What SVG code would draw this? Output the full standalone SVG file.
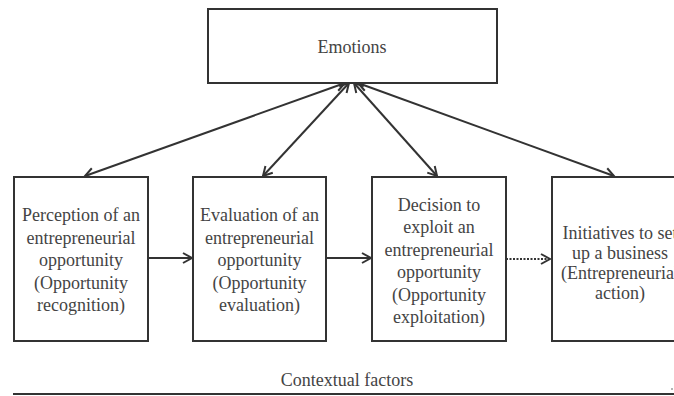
<svg xmlns="http://www.w3.org/2000/svg" width="674" height="396" viewBox="0 0 674 396">
<defs>
<style>
.box{fill:#fff;stroke:#333;stroke-width:2}
.t{font-family:'Liberation Serif','Times New Roman',Times,'DejaVu Serif',serif;font-size:18px;fill:#444;text-anchor:middle}
.c{stroke:#333;stroke-width:2;fill:none}
.d{stroke:#333;stroke-width:2;fill:none;stroke-dasharray:2 1.5}
</style>
<marker id="ah" markerUnits="userSpaceOnUse" markerWidth="14" markerHeight="14" viewBox="0 0 14 14" refX="12" refY="7" orient="auto-start-reverse">
<path d="M3,2 L12,7 L3,12" fill="none" stroke="#333" stroke-width="2"/>
</marker>
</defs>
<rect width="674" height="396" fill="#fff"/>
<g id="connectors">
<line class="c" x1="345" y1="83" x2="85" y2="176" marker-start="url(#ah)" marker-end="url(#ah)"/>
<line class="c" x1="349" y1="83" x2="263" y2="176" marker-start="url(#ah)" marker-end="url(#ah)"/>
<line class="c" x1="354" y1="83" x2="437" y2="176" marker-start="url(#ah)" marker-end="url(#ah)"/>
<line class="c" x1="358" y1="83" x2="614" y2="176" marker-start="url(#ah)" marker-end="url(#ah)"/>
<line class="c" x1="148" y1="258" x2="192" y2="258" marker-end="url(#ah)"/>
<line class="c" x1="326" y1="258" x2="371" y2="258" marker-end="url(#ah)"/>
<line class="d" x1="506" y1="259" x2="550" y2="259" marker-end="url(#ah)"/>
</g>
<g id="emotions">
<rect class="box" x="208" y="9" width="289" height="74"/>
<text class="t" font-family="Liberation Serif, serif" x="352" y="53">Emotions</text>
</g>
<g id="perception">
<rect class="box" x="14" y="177" width="134" height="164"/>
<text class="t" font-family="Liberation Serif, serif" x="81"><tspan x="81" y="221">Perception of an</tspan><tspan x="81" y="243.5">entrepreneurial</tspan><tspan x="81" y="266">opportunity</tspan><tspan x="81" y="288.5">(Opportunity</tspan><tspan x="81" y="311">recognition)</tspan></text>
</g>
<g id="evaluation">
<rect class="box" x="193" y="177" width="133" height="164"/>
<text class="t" font-family="Liberation Serif, serif" x="259.5"><tspan x="259.5" y="221">Evaluation of an</tspan><tspan x="259.5" y="243.5">entrepreneurial</tspan><tspan x="259.5" y="266">opportunity</tspan><tspan x="259.5" y="288.5">(Opportunity</tspan><tspan x="259.5" y="311">evaluation)</tspan></text>
</g>
<g id="decision">
<rect class="box" x="372" y="177" width="134" height="164"/>
<text class="t" font-family="Liberation Serif, serif" x="439"><tspan x="439" y="211">Decision to</tspan><tspan x="439" y="233">exploit an</tspan><tspan x="439" y="256">entrepreneurial</tspan><tspan x="439" y="278">opportunity</tspan><tspan x="439" y="301">(Opportunity</tspan><tspan x="439" y="323">exploitation)</tspan></text>
</g>
<g id="initiatives">
<rect class="box" x="552" y="177" width="140" height="164"/>
<text class="t" font-family="Liberation Serif, serif" x="620"><tspan x="620" y="239">Initiatives to set</tspan><tspan x="620" y="259">up a business</tspan><tspan x="620" y="279">(Entrepreneurial</tspan><tspan x="620" y="299">action)</tspan></text>
</g>
<g id="context">
<text class="t" font-family="Liberation Serif, serif" x="347" y="386">Contextual factors</text>
<line x1="13" y1="394" x2="674" y2="394" stroke="#333" stroke-width="2"/>
<circle cx="672" cy="389" r="0.8" fill="#555"/>
</g>
</svg>
